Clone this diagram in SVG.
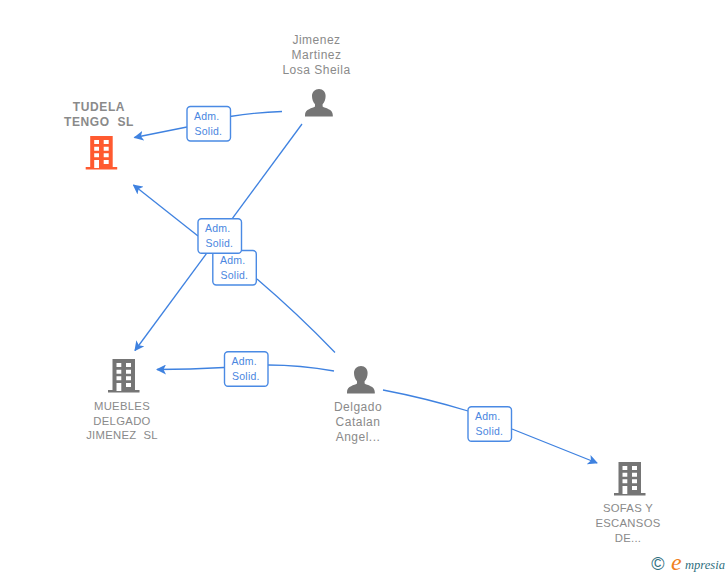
<svg xmlns="http://www.w3.org/2000/svg" width="728" height="575" viewBox="0 0 728 575">
<style>
.c{fill:none;stroke:#3f82e0;stroke-width:1.3}
.l rect{fill:#fff;stroke:#4a8ae4;stroke-width:1.4}
.l text{font:10.5px "Liberation Sans",Arial,sans-serif;fill:#4a86e0;letter-spacing:.25px}
.n text{font:12px "Liberation Sans",Arial,sans-serif;fill:#8a8a8a;text-anchor:middle;letter-spacing:.5px}
.n text.s{font-size:11.3px;letter-spacing:.3px}
.n text.t{font-weight:bold;letter-spacing:.6px}
</style>
<defs>
<marker id="a" viewBox="0 0 10 10" refX="9" refY="5" markerWidth="10" markerHeight="10" markerUnits="userSpaceOnUse" orient="auto"><path d="M10 5L0 0L2.500 5L0 10Z" fill="#3f82e0"/></marker>
<path id="b" fill-rule="evenodd" d="M4.500 0H27V31H31.500V33.500H0V31H4.500ZM8.500 4V8H13.300V4ZM18 4V8H23V4ZM8.500 10.700V14.700H13.300V10.700ZM18 10.700V14.700H23V10.700ZM8.500 17.300V21.300H13.300V17.300ZM18 17.300V21.300H23V17.300ZM8.500 24V32H13.300V24ZM18 24V28H23V24Z"/>
<path id="p" fill="#757575" d="M14 0C18 0 20.600 3 20.600 7C20.600 10 19.600 13 17.600 15.200V17.600C20 19.400 27.800 20 27.800 26V27.600H0V26C0 20 7.600 19.400 10 17.600V15.200C8 13 7 10 7 7C7 3 10 0 14 0Z"/>
</defs>
<g id="connectors">
<path class="c" d="M282 111.500Q255 112.500 230 116.500"/>
<path class="c" marker-end="url(#a)" d="M187 127L134.500 137.500"/>
<path class="c" marker-end="url(#a)" d="M302 124L135 350.500"/>
<path class="c" d="M335 352.500Q298 314 257 279"/>
<path class="c" marker-end="url(#a)" d="M198 236L133.500 185"/>
<path class="c" d="M334 371Q300 365 268 365"/>
<path class="c" marker-end="url(#a)" d="M224 367.500Q190 369.500 157 369.500"/>
<path class="c" d="M383 390Q425 398 468 411"/>
<path class="c" marker-end="url(#a)" d="M512 429L597 463"/>
</g>
<g id="label1" class="l"><rect x="187" y="106.500" width="43.500" height="34.500" rx="3.500"/><text x="194" y="120">Adm.</text><text x="194.500" y="135">Solid.</text></g>
<g id="label3" class="l"><rect x="212.800" y="250.500" width="43.500" height="34.500" rx="3.500"/><text x="220" y="264">Adm.</text><text x="220.500" y="279">Solid.</text></g>
<g id="label2" class="l"><rect x="198" y="218.700" width="43.500" height="34.500" rx="3.500"/><text x="205" y="232">Adm.</text><text x="205.500" y="247">Solid.</text></g>
<g id="label4" class="l"><rect x="224.500" y="351.700" width="43.500" height="34.500" rx="3.500"/><text x="231.500" y="365">Adm.</text><text x="232" y="380">Solid.</text></g>
<g id="label5" class="l"><rect x="468" y="406.700" width="43.500" height="34.500" rx="3.500"/><text x="475" y="420">Adm.</text><text x="475.500" y="435">Solid.</text></g>
<g id="tudela" class="n"><use href="#b" x="85.700" y="136" fill="#ff5a30"/><text class="t" x="99" y="111">TUDELA</text><text class="t" x="99" y="126" xml:space="preserve">TENGO  SL</text></g>
<g id="jimenez" class="n"><use href="#p" x="305" y="89"/><text x="316.500" y="44">Jimenez</text><text x="316.500" y="59">Martinez</text><text x="316.500" y="74">Losa Sheila</text></g>
<g id="muebles" class="n"><use href="#b" x="108" y="359" fill="#757575"/><text class="s" x="122" y="409.500">MUEBLES</text><text class="s" x="122" y="424.500">DELGADO</text><text class="s" x="122" y="439" xml:space="preserve">JIMENEZ  SL</text></g>
<g id="delgado" class="n"><use href="#p" x="347" y="366"/><text x="358" y="411">Delgado</text><text x="358" y="426">Catalan</text><text x="358" y="441">Angel...</text></g>
<g id="sofas" class="n"><use href="#b" x="614" y="462" fill="#757575"/><text class="s" x="628" y="512">SOFAS Y</text><text class="s" x="628" y="527">ESCANSOS</text><text class="s" x="628" y="542">DE...</text></g>
<g id="logo"><text x="658" y="570" text-anchor="middle" style="font:18px 'Liberation Sans',sans-serif;fill:#2f6f80">©</text><text x="671" y="570" style="font:italic 24px 'Liberation Serif',serif;fill:#f08020">e</text><text x="685" y="568.500" textLength="40" lengthAdjust="spacingAndGlyphs" style="font:italic 13.500px 'Liberation Serif',serif;fill:#2f6f80">mpresia</text></g>
</svg>
